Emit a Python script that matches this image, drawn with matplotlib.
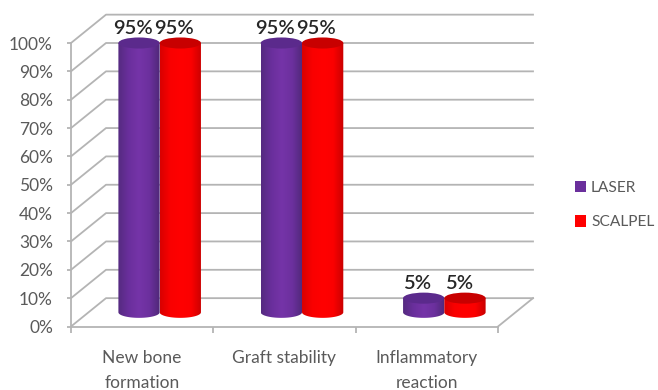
import numpy as np
import matplotlib
matplotlib.use("Agg")
import matplotlib.pyplot as plt
from matplotlib.colors import LinearSegmentedColormap
from matplotlib.patches import Ellipse, Patch, Polygon

categories = ["New bone\nformation", "Graft stability", "Inflammatory\nreaction"]
series_names = ["LASER", "SCALPEL"]
laser_values = [95, 95, 5]
scalpel_values = [95, 95, 5]
y_ticks = list(range(0, 101, 10))

plt.rcParams["font.family"] = ["Lato", "DejaVu Sans"]

W, H = 658, 390
fig = plt.figure(figsize=(W / 100, H / 100), dpi=100)
ax = fig.add_axes([71 / W, 1 - 326.5 / H, 427 / W, 283.5 / H])
ax.patch.set_alpha(0)

# Oblique offset of the back wall, in data units
DEPTH_X, DEPTH_Y = 0.246, 10.0
BAR_W, CAP_H = 0.29, 3.9
GRID = "#b4b4b4"
TEXT = "#5a5a5a"

# Walls and floor of the box
for v in y_ticks:
    ax.plot([0, DEPTH_X, 3 + DEPTH_X], [v, v + DEPTH_Y, v + DEPTH_Y],
            color=GRID, lw=1.3, clip_on=False, zorder=1)
ax.plot([3, 3 + DEPTH_X], [0, DEPTH_Y], color=GRID, lw=1.3, clip_on=False, zorder=1)


def cylinder(cx, value, stops, cap_color, z):
    """Shaded cylinder standing halfway back on the floor."""
    base = DEPTH_Y / 2
    top = base + value
    t = np.linspace(np.pi, 2 * np.pi, 40)
    xs = cx + BAR_W / 2 * np.cos(t)
    ys = base + CAP_H / 2 * np.sin(t)
    verts = np.vstack([np.column_stack([xs, ys]),
                       [[cx + BAR_W / 2, top], [cx - BAR_W / 2, top]]])
    outline = Polygon(verts, closed=True, transform=ax.transData, fc="none", ec="none")
    ax.add_patch(outline)
    cmap = LinearSegmentedColormap.from_list("shade", stops)
    im = ax.imshow(np.linspace(0, 1, 128)[None, :], cmap=cmap, aspect="auto",
                   extent=[cx - BAR_W / 2, cx + BAR_W / 2, base - CAP_H, top],
                   zorder=z, interpolation="bilinear")
    im.set_clip_path(outline)
    ax.add_patch(Ellipse((cx, top), BAR_W, CAP_H, fc=cap_color, ec="none",
                         zorder=z + 0.1, clip_on=False))


laser_stops = ["#552a80", "#6a2f9c", "#7534a8", "#6c309e", "#4f2878"]
scalpel_stops = ["#d80000", "#fa0000", "#ff0000", "#fb0000", "#c80000"]

for i in range(len(categories)):
    centre = i + 0.5 + DEPTH_X / 2
    cylinder(centre - BAR_W / 2, laser_values[i], laser_stops, "#5b2a8c", 3)
    cylinder(centre + BAR_W / 2, scalpel_values[i], scalpel_stops, "#c80000", 4)
    for sign, val in ((-1, laser_values[i]), (1, scalpel_values[i])):
        ax.annotate(f"{val}%", (centre + sign * BAR_W / 2, val + DEPTH_Y / 2),
                    xytext=(-4.5, 4.5), textcoords="offset points",
                    ha="center", va="bottom", fontsize=14.5, fontweight="semibold",
                    color="#262626", zorder=6, annotation_clip=False)

ax.set_xlim(0, 3)
ax.set_ylim(0, 100)
ax.set_xticks([0, 1, 2, 3])
ax.set_xticklabels([])
ax.set_xticks([0.5, 1.5, 2.5], categories, minor=True)
ax.set_yticks(y_ticks, [f"{v}%" for v in y_ticks])
ax.tick_params(axis="x", which="major", length=4, width=1.3, color=GRID)
ax.tick_params(axis="x", which="minor", length=0, pad=17, labelsize=12.5, labelcolor=TEXT)
ax.tick_params(axis="y", length=3, width=1.3, color=GRID, pad=10, labelsize=12.5, labelcolor=TEXT)
for label in ax.get_xticklabels(minor=True):
    label.set_linespacing(1.7)
for side in ("top", "right"):
    ax.spines[side].set_visible(False)
for side in ("left", "bottom"):
    ax.spines[side].set_color(GRID)
    ax.spines[side].set_linewidth(1.3)
    ax.spines[side].set_zorder(2)

handles = [Patch(fc="#6a2f9c", ec="none", label=series_names[0]),
           Patch(fc="#ff0000", ec="none", label=series_names[1])]
fig.legend(handles=handles, loc="center left", bbox_to_anchor=(570 / W, 1 - 205 / H),
           frameon=False, fontsize=11.2, labelcolor=TEXT, handlelength=0.75, handleheight=0.75,
           handletextpad=0.3, labelspacing=1.3, borderpad=0.3, borderaxespad=0)

fig.savefig("out.png", dpi=100, facecolor="white")
